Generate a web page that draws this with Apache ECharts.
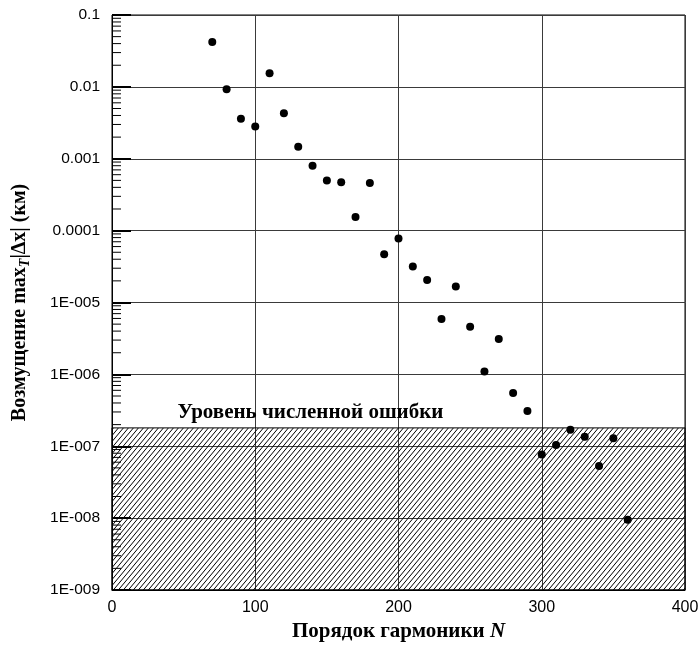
<!DOCTYPE html>
<html>
<head>
<meta charset="utf-8">
<script src="https://cdn.jsdelivr.net/npm/echarts@6/dist/echarts.min.js"></script>
<style>
  html, body { margin: 0; padding: 0; background: #fff; }
  #chart { width: 699px; height: 646px; }
</style>
</head>
<body>
<div id="chart"></div>
<script>
// Harmonic order N
const harmonics = [70, 80, 90, 100, 110, 120, 130, 140, 150, 160, 170, 180, 190, 200,
  210, 220, 230, 240, 250, 260, 270, 280, 290, 300, 310, 320, 330, 340, 350, 360];

// Perturbation max_T |dx|, km
const perturbation = [4.2e-2, 9.3e-3, 3.6e-3, 2.8e-3, 1.55e-2, 4.3e-3, 1.47e-3, 8.0e-4,
  5.0e-4, 4.7e-4, 1.55e-4, 4.6e-4, 4.7e-5, 7.8e-5, 3.16e-5, 2.06e-5, 5.9e-6, 1.67e-5,
  4.6e-6, 1.1e-6, 3.1e-6, 5.5e-7, 3.1e-7, 7.7e-8, 1.04e-7, 1.69e-7, 1.36e-7, 5.3e-8,
  1.29e-7, 9.5e-9];

// Numerical error level (hatched band)
const errorLevel = 1.8e-7;

// Y tick labels keyed by decade exponent
const yTickLabels = {
  '-1': '0.1', '-2': '0.01', '-3': '0.001', '-4': '0.0001',
  '-5': '1E-005', '-6': '1E-006', '-7': '1E-007', '-8': '1E-008', '-9': '1E-009'
};

const xTicks = [0, 100, 200, 300, 400];

// Minor log ticks (2..9 within each decade)
const minorTicks = [];
for (let e = -9; e <= -2; e++) {
  for (let m = 2; m <= 9; m++) minorTicks.push(m * Math.pow(10, e));
}

// Diagonal hatch tile
function makeHatch() {
  const w = 5, h = 6;
  const c = document.createElement('canvas');
  c.width = w; c.height = h;
  const ctx = c.getContext('2d');
  ctx.strokeStyle = '#000';
  ctx.lineWidth = 1;
  for (let k = -1; k <= 1; k++) {
    ctx.beginPath();
    ctx.moveTo(k * w - 1, h + h / w);
    ctx.lineTo(k * w + w + 1, -h / w);
    ctx.stroke();
  }
  return c;
}

const chart = echarts.init(document.getElementById('chart'), null, { renderer: 'canvas' });

const serif = 'Liberation Serif';
const sans = 'Liberation Sans';

chart.setOption({
  animation: false,
  backgroundColor: '#fff',
  grid: {
    left: 112, right: 14, top: 15, bottom: 56,
    outerBoundsMode: 'none',
    containLabel: false,
    show: true, borderColor: '#000', borderWidth: 1, backgroundColor: 'transparent'
  },
  xAxis: {
    type: 'value',
    min: xTicks[0], max: xTicks[xTicks.length - 1], interval: 100,
    axisLine: { show: true, onZero: false, lineStyle: { color: '#000', width: 1 } },
    axisTick: { show: false },
    axisLabel: { color: '#000', fontFamily: sans, fontSize: 16, margin: 10 },
    splitLine: { show: true, lineStyle: { color: '#3a3a3a', width: 1 } },
    name: 'Порядок гармоники {i|N}',
    nameLocation: 'middle',
    nameGap: 29,
    nameTextStyle: {
      color: '#000', fontFamily: serif, fontWeight: 'bold', fontSize: 21,
      rich: { i: { fontFamily: serif, fontWeight: 'bold', fontStyle: 'italic', fontSize: 21, color: '#000' } }
    }
  },
  yAxis: {
    type: 'log',
    logBase: 10,
    min: 1e-9, max: 0.1,
    interval: 1,
    axisLine: { show: true, lineStyle: { color: '#000', width: 1 } },
    axisTick: { show: true, inside: true, length: 19, lineStyle: { color: '#000', width: 2 } },
    axisLabel: {
      color: '#000', fontFamily: sans, fontSize: 15.5, margin: 12,
      formatter: function (v) {
        const e = Math.round(Math.log10(v));
        return yTickLabels[String(e)] || '';
      }
    },
    splitLine: { show: true, lineStyle: { color: '#3a3a3a', width: 1 } },
    minorTick: { show: false },
    name: 'Возмущение max{sub|T}|Δx| (км)',
    nameLocation: 'middle',
    nameRotate: 90,
    nameGap: 80,
    nameTextStyle: {
      color: '#000', fontFamily: serif, fontWeight: 'bold', fontSize: 20,
      rich: {
        sub: { fontFamily: serif, fontWeight: 'bold', fontStyle: 'italic', fontSize: 14, color: '#000', padding: [10, 0, 0, 0] }
      }
    }
  },
  series: [
    {
      type: 'custom',
      silent: true,
      z: 3,
      data: minorTicks.map(v => [0, v]),
      renderItem: function (params, api) {
        const p = api.coord([api.value(0), api.value(1)]);
        return {
          type: 'line',
          shape: { x1: p[0], y1: p[1], x2: p[0] + 9, y2: p[1] },
          style: { stroke: '#000', lineWidth: 1 }
        };
      }
    },
    {
      type: 'scatter',
      z: 4,
      symbol: 'circle',
      symbolSize: 8,
      itemStyle: { color: '#000', opacity: 1 },
      data: harmonics.map((n, i) => [n, perturbation[i]]),
      markArea: {
        silent: true,
        itemStyle: {
          color: { image: makeHatch(), repeat: 'repeat' },
          borderColor: '#000',
          borderWidth: 1
        },
        label: {
          show: true,
          position: [66, -25],
          color: '#000', fontFamily: serif, fontWeight: 'bold', fontSize: 21
        },
        data: [[
          { name: 'Уровень численной ошибки', coord: [xTicks[0], 1e-9] },
          { coord: [xTicks[xTicks.length - 1], errorLevel] }
        ]]
      }
    }
  ]
});
</script>
</body>
</html>
